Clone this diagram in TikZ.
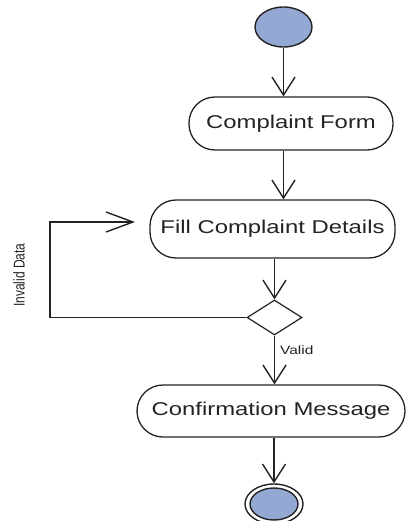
\documentclass[tikz,border=0pt]{standalone}
\usepackage{fontspec}
\setmainfont{Liberation Sans}
\usetikzlibrary{shapes.geometric,arrows.meta}
\definecolor{stateblue}{RGB}{147,168,210}
\definecolor{ink}{RGB}{35,35,35}
% text widened horizontally, as in the drawing
\newcommand{\widetext}[1]{\scalebox{1.29}[1]{#1}}
\newcommand{\tallrot}[1]{\scalebox{1}[1.3]{#1}}
\begin{document}
\begin{tikzpicture}[x=1bp,y=-1bp,
  activity/.style={draw=ink, line width=1.3bp, rounded corners=26bp,
    inner sep=0pt, text=ink,
    font=\fontsize{18.5bp}{22bp}\selectfont},
  startnode/.style={ellipse, draw=ink, line width=1.4bp, fill=stateblue,
    minimum width=57bp, minimum height=40bp, inner sep=0pt},
  decision/.style={diamond, draw=ink, line width=1.2bp, fill=white,
    minimum width=55bp, minimum height=35bp, inner sep=0pt},
  flow/.style={draw=ink, line width=1.5bp},
  vflow/.style={flow, -{Straight Barb[length=18bp,width=23bp,line width=1.4bp]}},
  hflow/.style={flow, -{Straight Barb[length=27bp,width=20bp,line width=1.4bp]}},
  smalllabel/.style={text=ink, inner sep=0pt, font=\fontsize{12bp}{14bp}\selectfont}
]
\useasboundingbox (0,0) rectangle (406,521);

% states and activities
\node[startnode] (start) at (283.5,27) {};
\node[activity, minimum width=204bp, minimum height=53bp] (form) at (291,123.5)
  {\widetext{Complaint Form}};
\node[activity, minimum width=245bp, minimum height=58bp] (fill) at (272.5,229)
  {\widetext{Fill Complaint Details}};
\node[decision] (check) at (274.5,317.5) {};
\node[activity, minimum width=268bp, minimum height=52bp] (confirm) at (271,411)
  {\widetext{Confirmation Message}};
\node[ellipse, draw=ink, line width=1.4bp, fill=white,
  minimum width=58bp, minimum height=40bp, inner sep=0pt] (end) at (274,504) {};
\node[startnode, minimum width=48bp, minimum height=32bp] (endcore) at (end) {};

% control flow
\draw[vflow] (start.south) -- (start.south |- form.north);
\draw[vflow] (form.south -| start) -- (fill.north -| start);
\draw[vflow] (fill.south -| check) -- (check.north);
\draw[vflow] (check.south) -- (confirm.north -| check);
\draw[vflow] (confirm.south -| end) -- (end.north);

% loop back on invalid input
\coordinate (loopcorner) at (50,222);
\coordinate (loopin) at (135,222);
\draw[hflow] (check.west) -| (loopcorner) -- (loopin);

% guard labels
\node[smalllabel, rotate=90] (invalid) at (19,275) {\tallrot{Invalid Data}};
\node[smalllabel, anchor=west] (valid) at (280,350) {\widetext{Valid}};
\end{tikzpicture}
\end{document}
